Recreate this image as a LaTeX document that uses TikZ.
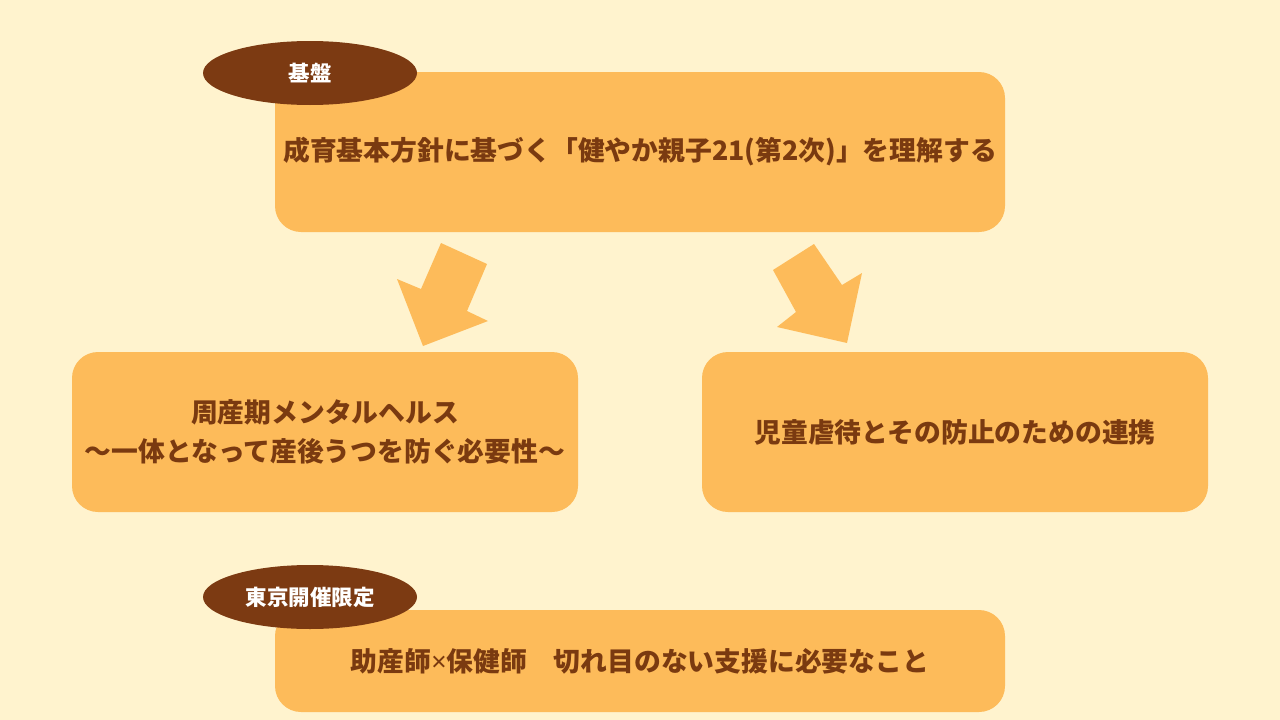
\documentclass[tikz,border=0pt]{standalone}
\usepackage{fontspec}
\usepackage{tikz}
\usetikzlibrary{shapes.geometric}
\newfontfamily\cjk{Noto Sans CJK JP}
\newfontfamily\latinsans{Noto Sans}
\newcommand{\narrowx}{{\latinsans\bfseries ×}}
\definecolor{paper}{RGB}{255,243,206}
\definecolor{boxfill}{RGB}{253,187,90}
\definecolor{brownink}{RGB}{122,58,16}
\definecolor{tagfill}{RGB}{124,58,18}

\begin{document}
\begin{tikzpicture}[x=1pt,y=-1pt,
  every node/.style={font=\cjk\bfseries\fontsize{26.8}{39}\selectfont},
  topic/.style={fill=boxfill,rounded corners=26pt,text=brownink,align=center},
  tag/.style={ellipse,fill=tagfill,text=white,inner sep=0pt,
    minimum width=214pt,minimum height=64pt,
    font=\cjk\bfseries\fontsize{21.5}{24}\selectfont}]
  \fill[paper] (0,0) rectangle (1280,720);
  \useasboundingbox (0,0) rectangle (1280,720);
  % boxes
  \node[topic,minimum width=730pt,minimum height=160pt] (base) at (640,152)
    {成育基本方針に基づく「健やか親子21(第2次)」を理解する};
  \node[topic,minimum width=506pt,minimum height=160pt] (mental) at (325,432)
    {周産期メンタルヘルス\\〜一体となって産後うつを防ぐ必要性〜};
  \node[topic,minimum width=506pt,minimum height=160pt] (abuse) at (955,432)
    {児童虐待とその防止のための連携};
  \node[topic,minimum width=730pt,minimum height=102pt] (tokyo) at (640,661)
    {助産師\narrowx 保健師　切れ目のない支援に必要なこと};
  % tags
  \node[tag] (basetag) at (310,73) {基盤};
  \node[tag] (tokyotag) at (310,597) {東京開催限定};
  % block arrows
  \fill[boxfill] (441,243) -- (487,264) -- (467,311) -- (488,321)
    -- (423,346) -- (397,279) -- (421,289) -- cycle;
  \fill[boxfill] (773,270) -- (814,244) -- (842,285) -- (862,273)
    -- (847,343) -- (777,327) -- (796,312) -- cycle;
\end{tikzpicture}
\end{document}
